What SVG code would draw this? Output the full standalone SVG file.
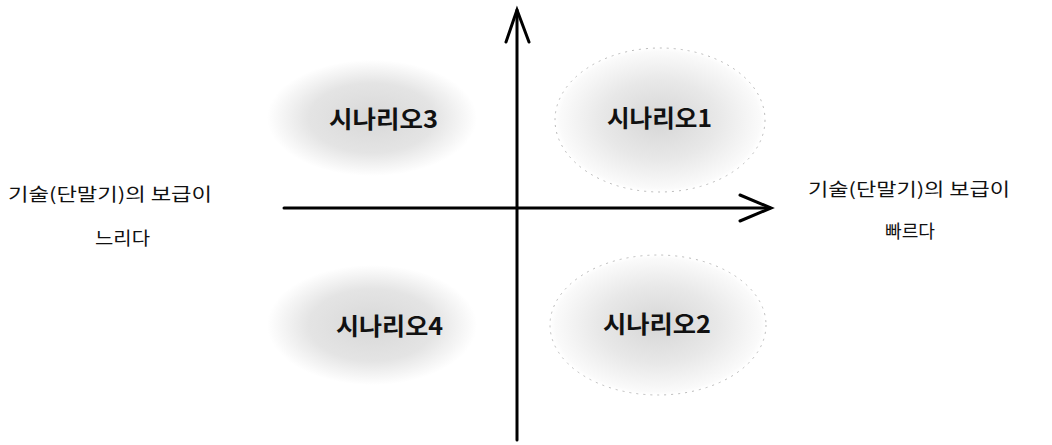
<svg xmlns="http://www.w3.org/2000/svg" width="1052" height="445" viewBox="0 0 1052 445">
<style>
.lbl{font-family:"Noto Sans CJK KR","Noto Sans",sans-serif;font-size:18px;fill:#111}
.sc{font-family:"Noto Sans CJK KR","Noto Sans",sans-serif;font-size:24px;font-weight:700;fill:#111}
.axis{stroke:#000;stroke-width:3;fill:none;stroke-linecap:round}
.outline{fill:none;stroke:#bbb;stroke-width:1;stroke-dasharray:2 5}
</style>
<defs>
<radialGradient id="blob" cx="0.5" cy="0.5" r="0.5">
<stop offset="0" stop-color="#d8d8d8"/>
<stop offset="0.6" stop-color="#e4e4e4"/>
<stop offset="1" stop-color="#ffffff"/>
</radialGradient>
<radialGradient id="blob2" cx="0.5" cy="0.5" r="0.5">
<stop offset="0" stop-color="#d6d6d6"/>
<stop offset="0.55" stop-color="#e8e8e8"/>
<stop offset="0.95" stop-color="#fafafa"/>
<stop offset="1" stop-color="#ffffff"/>
</radialGradient>
</defs>
<g id="scenario3">
<ellipse cx="372" cy="118" rx="105" ry="58" fill="url(#blob)"/>
<text class="sc" x="329" y="128" textLength="109" lengthAdjust="spacingAndGlyphs">시나리오3</text>
</g>
<g id="scenario1">
<ellipse cx="660" cy="120" rx="105" ry="72" fill="url(#blob2)"/>
<ellipse cx="660" cy="120" rx="105" ry="72" class="outline"/>
<text class="sc" x="607" y="127" textLength="105" lengthAdjust="spacingAndGlyphs">시나리오1</text>
</g>
<g id="scenario4">
<ellipse cx="372" cy="325" rx="105" ry="60" fill="url(#blob)"/>
<text class="sc" x="336" y="335" textLength="107" lengthAdjust="spacingAndGlyphs">시나리오4</text>
</g>
<g id="scenario2">
<ellipse cx="658" cy="325" rx="108" ry="70" fill="url(#blob2)"/>
<ellipse cx="658" cy="325" rx="108" ry="70" class="outline"/>
<text class="sc" x="603" y="333" textLength="108" lengthAdjust="spacingAndGlyphs">시나리오2</text>
</g>
<g id="label-left">
<text class="lbl" x="8" y="201" textLength="204" lengthAdjust="spacingAndGlyphs">기술(단말기)의 보급이</text>
<text class="lbl" x="95" y="245" textLength="55" lengthAdjust="spacingAndGlyphs">느리다</text>
</g>
<g id="label-right">
<text class="lbl" x="808" y="196" textLength="202" lengthAdjust="spacingAndGlyphs">기술(단말기)의 보급이</text>
<text class="lbl" x="885" y="238" textLength="50" lengthAdjust="spacingAndGlyphs">빠르다</text>
</g>
<g id="connectors">
<line class="axis" x1="517" y1="440" x2="517" y2="10"/>
<polyline class="axis" points="506,42 517,10 529,42"/>
<line class="axis" x1="284" y1="208" x2="770" y2="208"/>
<polyline class="axis" points="740,195 771,208 740,221"/>
</g>
</svg>
